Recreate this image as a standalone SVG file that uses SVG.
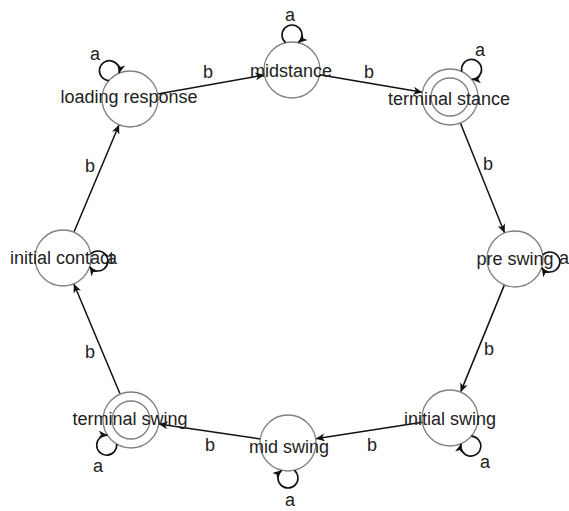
<svg xmlns="http://www.w3.org/2000/svg" width="569" height="511" viewBox="0 0 569 511">
<style>
.node{fill:#fff;stroke:#808080;stroke-width:1.3}
.lbl{font-family:"Liberation Sans",Arial,sans-serif;font-size:18px;fill:#222;text-anchor:middle}
.edge{fill:none;stroke:#111;stroke-width:1.5}
.loop{fill:none;stroke:#111;stroke-width:1.6}
</style>
<defs>
<marker id="arr" markerWidth="10" markerHeight="8" refX="9" refY="4" orient="auto" markerUnits="userSpaceOnUse">
<path d="M0,0 L9,4 L0,8 L2.5,4 z" fill="#111"/>
</marker>
</defs>
<rect width="569" height="511" fill="#fff"/>
<g id="connectors">
<line class="edge" x1="157.6" y1="94.1" x2="264.4" y2="74.9" marker-end="url(#arr)"/>
<line class="edge" x1="319.6" y1="74.7" x2="422.4" y2="92.3" marker-end="url(#arr)"/>
<line class="edge" x1="460.4" y1="123" x2="504.6" y2="233" marker-end="url(#arr)"/>
<line class="edge" x1="504.4" y1="284.9" x2="460.6" y2="392.1" marker-end="url(#arr)"/>
<line class="edge" x1="422.3" y1="422.3" x2="315.7" y2="438.7" marker-end="url(#arr)"/>
<line class="edge" x1="260.3" y1="438.9" x2="158.7" y2="424.1" marker-end="url(#arr)"/>
<line class="edge" x1="120.2" y1="394.2" x2="73.8" y2="283.8" marker-end="url(#arr)"/>
<line class="edge" x1="73.9" y1="232.2" x2="119.1" y2="124.8" marker-end="url(#arr)"/>
<text class="lbl" x="208" y="78">b</text>
<text class="lbl" x="369" y="78">b</text>
<text class="lbl" x="488" y="170">b</text>
<text class="lbl" x="489" y="355">b</text>
<text class="lbl" x="372" y="451">b</text>
<text class="lbl" x="210" y="451">b</text>
<text class="lbl" x="90" y="358">b</text>
<text class="lbl" x="90" y="172">b</text>
</g>
<g id="midstance">
<circle class="node" cx="292" cy="70" r="28"/>
<text class="lbl" x="291" y="77">midstance</text>
<path class="loop" d="M285.65,42.73 A10,10 0 1 1 298.35,42.73" marker-end="url(#arr)"/>
<text class="lbl" x="290" y="21">a</text>
</g>
<g id="loading-response">
<circle class="node" cx="130" cy="99" r="28"/>
<text class="lbl" x="129" y="103">loading response</text>
<path class="loop" d="M108.83,80.67 A10,10 0 1 1 119.11,73.21" marker-end="url(#arr)"/>
<text class="lbl" x="95" y="60">a</text>
</g>
<g id="terminal-stance">
<circle class="node" cx="450" cy="97" r="28"/>
<circle class="node" cx="450" cy="97" r="19" fill="none"/>
<text class="lbl" x="449" y="105">terminal stance</text>
<path class="loop" d="M461.79,71.6 A10,10 0 1 1 471.79,79.42" marker-end="url(#arr)"/>
<text class="lbl" x="480" y="56">a</text>
</g>
<g id="pre-swing">
<circle class="node" cx="515" cy="259" r="28"/>
<text class="lbl" x="515" y="265">pre swing</text>
<path class="loop" d="M542.72,255.05 A10,10 0 1 1 541.62,267.71" marker-end="url(#arr)"/>
<text class="lbl" x="564" y="264">a</text>
</g>
<g id="initial-swing">
<circle class="node" cx="450" cy="418" r="28"/>
<text class="lbl" x="450" y="425">initial swing</text>
<path class="loop" d="M471.32,436.14 A10,10 0 1 1 461.12,443.7" marker-end="url(#arr)"/>
<text class="lbl" x="485" y="468">a</text>
</g>
<g id="mid-swing">
<circle class="node" cx="288" cy="443" r="28"/>
<text class="lbl" x="289" y="453">mid swing</text>
<path class="loop" d="M294.35,470.27 A10,10 0 1 1 281.65,470.27" marker-end="url(#arr)"/>
<text class="lbl" x="290" y="506">a</text>
</g>
<g id="terminal-swing">
<circle class="node" cx="131" cy="420" r="28"/>
<circle class="node" cx="131" cy="420" r="19" fill="none"/>
<text class="lbl" x="130" y="425">terminal swing</text>
<path class="loop" d="M116.63,444.03 A10,10 0 1 1 107.49,435.21" marker-end="url(#arr)"/>
<text class="lbl" x="98" y="472">a</text>
</g>
<g id="initial-contact">
<circle class="node" cx="63" cy="258" r="28"/>
<text class="lbl" x="62" y="264">initial contact</text>
<path class="loop" d="M90.72,254.05 A10,10 0 1 1 89.62,266.71" marker-end="url(#arr)"/>
<text class="lbl" x="112" y="264">a</text>
</g>
</svg>
